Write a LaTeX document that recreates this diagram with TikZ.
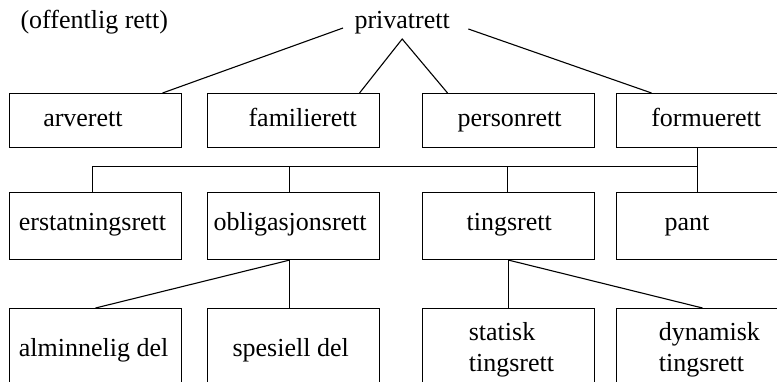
\documentclass[tikz,border=0pt]{standalone}
\usepackage{fontspec}
\setmainfont{Liberation Serif}
\begin{document}
\begin{tikzpicture}[x=1pt,y=-1pt,
  line width=1.1pt,
  font=\fontsize{26}{31.7}\selectfont,
  box/.style={draw, rectangle, inner sep=0pt, anchor=north west, minimum width=172pt},
  rowa/.style={box, minimum height=54pt},
  rowb/.style={box, minimum height=67pt},
  rowc/.style={box, minimum height=100pt},
  lbl/.style={inner sep=0pt, anchor=base west}]
\useasboundingbox (0,0) rectangle (777,381);
\clip (0,0) rectangle (777,381);

% header
\node[lbl] (off) at (20,28) {(offentlig rett)};
\node[lbl] (priv) at (354,28) {privatrett};

% first level
\node[rowa] (arv)  at (9,93)   {};
\node[rowa] (fam)  at (207,93) {};
\node[rowa] (pers) at (422,93) {};
\node[rowa] (form) at (616,93) {};
\node[lbl] (arvL)  at (42.7,126) {arverett};
\node[lbl] (famL)  at (248,126)  {familierett};
\node[lbl] (persL) at (457,126)  {personrett};
\node[lbl] (formL) at (650.7,126) {formuerett};

% second level
\node[rowb] (erst) at (9,192)   {};
\node[rowb] (obl)  at (207,192) {};
\node[rowb] (ting) at (422,192) {};
\node[rowb] (pant) at (616,192) {};
\node[lbl] (erstL) at (18.3,230) {erstatningsrett};
\node[lbl] (oblL)  at (213,230)  {obligasjonsrett};
\node[lbl] (tingL) at (466,230)  {tingsrett};
\node[lbl] (pantL) at (664,230)  {pant};

% third level
\node[rowc] (alm)  at (9,308)   {};
\node[rowc] (spes) at (207,308) {};
\node[rowc] (stat) at (422,308) {};
\node[rowc] (dyn)  at (616,308) {};
\node[lbl] (almL)  at (18.3,356) {alminnelig del};
\node[lbl] (spesL) at (232,356)  {spesiell del};
\node[lbl, align=left] (statL) at (468.3,371.7) {statisk\\tingsrett};
\node[lbl, align=left] (dynL)  at (658.3,371.7) {dynamisk\\tingsrett};

% connectors from privatrett
\coordinate (pL) at ([xshift=-11pt]priv.base west);
\coordinate (pR) at ([shift={(18pt,-1pt)}]priv.base east);
\coordinate (pA) at ([yshift=-11pt]priv.base);
\draw (pL) -- ([xshift=67pt]arv.north);
\draw ([xshift=66pt]fam.north) -- (pA) -- ([xshift=-61pt]pers.north);
\draw (pR) -- ([xshift=-51pt]form.north);

% bus below formuerett
\coordinate (bus)   at (0,166.5);
\coordinate (formB) at ([xshift=-5pt]form.south);
\coordinate (erstT) at ([xshift=-3pt]erst.north);
\coordinate (oblT)  at ([xshift=-4pt]obl.north);
\coordinate (tingT) at ([xshift=-1pt]ting.north);
\coordinate (pantT) at ([xshift=-5pt]pant.north);
\draw (formB) -- (pantT);
\draw (erstT) |- (formB |- bus);
\draw (oblT) -- (oblT |- bus);
\draw (tingT) -- (tingT |- bus);

% obligasjonsrett and tingsrett subdivisions
\coordinate (oblB) at ([xshift=-4pt]obl.south);
\draw (oblB) -- (alm.north);
\draw (oblB) -- (oblB |- spes.north);
\draw (ting.south) -- (stat.north);
\draw (ting.south) -- (dyn.north);
\end{tikzpicture}
\end{document}
